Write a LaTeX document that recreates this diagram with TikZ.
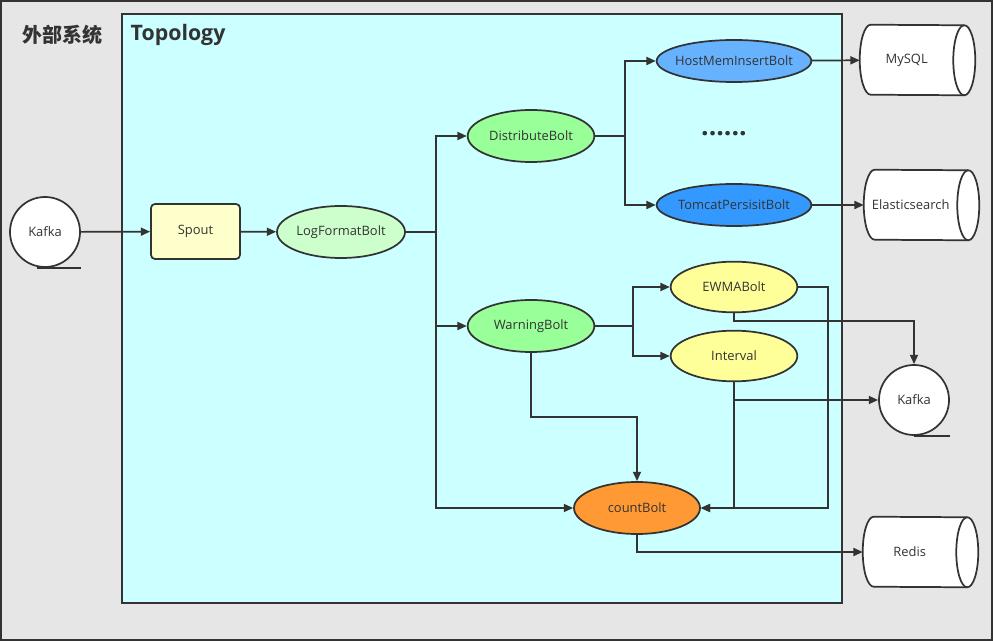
\documentclass[tikz,border=0pt]{standalone}
\usepackage{fontspec}
\setmainfont{Open Sans}
\newfontfamily\cjk{Noto Sans CJK SC}
\usetikzlibrary{shapes.geometric,arrows.meta}
\definecolor{ink}{HTML}{333333}
\definecolor{outerbg}{HTML}{E6E6E6}
\definecolor{topobg}{HTML}{CCFFFF}
\definecolor{spoutbg}{HTML}{FFFFCC}
\definecolor{logbg}{HTML}{CCFFCC}
\definecolor{greenbg}{HTML}{99FF99}
\definecolor{hostbg}{HTML}{66B2FF}
\definecolor{tomcatbg}{HTML}{3399FF}
\definecolor{yellowbg}{HTML}{FFFF99}
\definecolor{countbg}{HTML}{FF9933}
\tikzset{
  every node/.style={font=\fontsize{9.7}{11}\selectfont, text=ink},
  bolt/.style={ellipse, draw=ink, line width=1.3pt, inner sep=0pt, minimum width=95pt, minimum height=39pt},
  wide bolt/.style={bolt, inner xsep=-5pt, minimum width=116pt, minimum height=31.5pt},
  tape/.style={circle, draw=ink, line width=1.3pt, fill=white, minimum size=52.5pt, inner sep=0pt},
  store/.style={rectangle, inner sep=0pt, minimum width=78pt, minimum height=52.5pt},
  flow/.style={draw=ink, line width=1.3pt, -{Triangle[length=7pt,width=6pt]}},
  wire/.style={draw=ink, line width=1.3pt}
}
\newcommand\storage[4]{%
  \node[store] (#1) at (#2,#3) {};
  \draw[wire, fill=white] ([xshift=8.25pt]#1.north west) arc (90:270:8.25pt and 26.25pt)
    -- (#1.south east) arc (-90:90:8.25pt and 26.25pt) -- cycle;
  \draw[wire] (#1.south east) arc (270:90:8.25pt and 26.25pt);
  \node (#1text) at ([xshift=-4pt]#1.center) {#4};
}
\begin{document}
\begin{tikzpicture}[x=0.75pt,y=-0.75pt]
\useasboundingbox (0,0) rectangle (993,641);
\draw[ink, line width=1.5pt, fill=outerbg] (1,1) rectangle (992,640);
\draw[ink, line width=1.3pt, fill=topobg] (122,14) rectangle (842,603);
\node[anchor=west, font=\fontsize{15}{18}\selectfont\bfseries\cjk] (outertitle) at (18,35) {外部系统};
\node[anchor=west, font=\fontsize{16}{19}\selectfont\bfseries] (topotitle) at (126,35) {Topology};

\node[tape] (kafkain) at (45,232) {Kafka};
\draw[wire] ([xshift=-6pt]kafkain.south) -- (kafkain.south -| kafkain.east);
\node[draw=ink, line width=1.3pt, fill=spoutbg, rounded corners=3pt, minimum width=66.75pt, minimum height=41.25pt] (spout) at (195.5,231.5) {Spout};
\node[bolt, fill=logbg, minimum width=96pt] (logfmt) at (341,232) {LogFormatBolt};
\node[bolt, fill=greenbg] (distribute) at (531,136) {DistributeBolt};
\node[bolt, fill=greenbg] (warning) at (531,326) {WarningBolt};
\node[wide bolt, fill=hostbg] (host) at (734,61) {HostMemInsertBolt};
\node[font=\fontsize{20}{22}\selectfont\bfseries] (more) at (724,134) {......};
\node[wide bolt, fill=tomcatbg] (tomcat) at (734,205) {TomcatPersisitBolt};
\node[bolt, fill=yellowbg, minimum height=38pt] (ewma) at (734,287) {EWMABolt};
\node[bolt, fill=yellowbg, minimum height=38pt] (interval) at (734,356) {Interval};
\node[bolt, fill=countbg, minimum width=94.5pt] (count) at (637,508) {countBolt};

\storage{mysql}{912}{60}{MySQL}
\storage{elastic}{916}{205}{Elasticsearch}
\node[tape] (kafkaout) at (914,400) {Kafka};
\draw[wire] (kafkaout.south) -- (kafkaout.south -| kafkaout.east);
\storage{redis}{915}{552}{Redis}

\coordinate (split1) at (436,232);
\coordinate (split2) at (625,136);
\coordinate (split3) at (633,326);

\draw[flow] (kafkain) -- (spout);
\draw[flow] (spout) -- (logfmt);
\draw[wire] (logfmt) -- (split1);
\draw[flow] (split1) |- (distribute);
\draw[flow] (split1) |- (warning);
\draw[flow] (split1) |- (count);
\draw[wire] (distribute) -- (split2);
\draw[flow] (split2) |- (host);
\draw[flow] (split2) |- (tomcat);
\draw[flow] (host) -- (mysql);
\draw[flow] (tomcat) -- (elastic);
\draw[wire] (warning) -- (split3);
\draw[flow] (split3) |- (ewma);
\draw[flow] (split3) |- (interval);
\draw[flow] (warning.south) -- ++(0,64) -| (count.north);
\draw[flow] (ewma.south) -- ++(0,8) -| (kafkaout.north);
\draw[flow] (ewma.east) -- ++(30,0) |- (count.east);
\draw[flow] (interval.south) |- (kafkaout.west);
\draw[flow] (interval.south) |- (count.east);
\draw[flow] (count.south) |- (redis.west);
\end{tikzpicture}
\end{document}
